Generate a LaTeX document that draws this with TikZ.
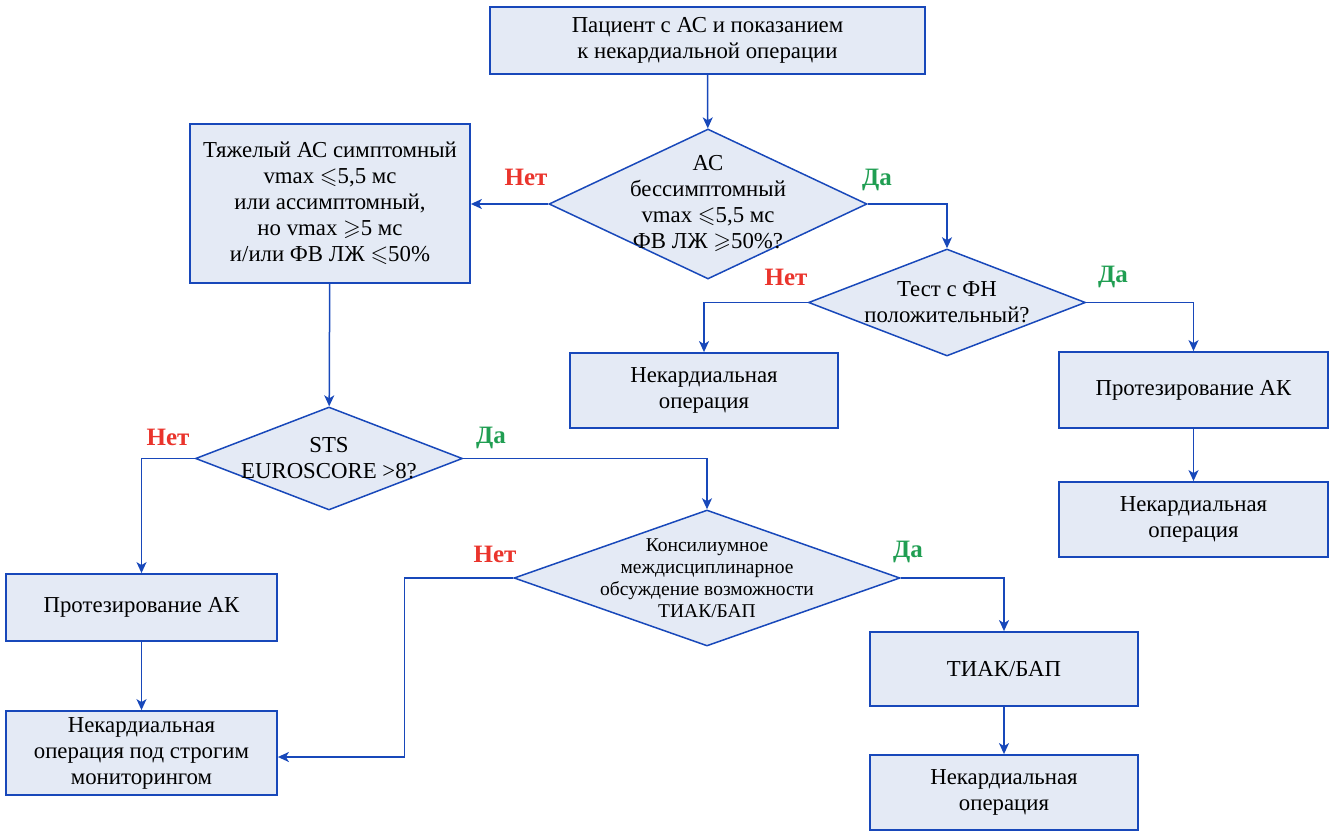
\documentclass[tikz,border=0pt]{standalone}
\usepackage{amssymb}
\usepackage{fontspec}
\setmainfont{Liberation Serif}
\usetikzlibrary{shapes.geometric,arrows.meta}
\definecolor{boxblue}{RGB}{24,72,186}
\definecolor{boxfill}{RGB}{228,234,245}
\definecolor{nored}{RGB}{234,52,44}
\definecolor{yesgreen}{RGB}{32,158,82}
\tikzset{every picture/.style={line width=1.5pt}}
\tikzset{
  stepbox/.style={draw=boxblue,fill=boxfill,line width=1.8pt,align=center,inner sep=0pt,
    font=\fontsize{22.8}{26}\selectfont},
  choice/.style={diamond,draw=boxblue,fill=boxfill,line width=1.5pt,align=center,inner sep=-14pt,
    font=\fontsize{22.8}{26}\selectfont},
  arr/.style={draw=boxblue,line width=1.5pt,-{Stealth[length=11pt,width=10pt,inset=3pt]}},
  nolbl/.style={text=nored,font=\bfseries\fontsize{25}{28}\selectfont},
  yeslbl/.style={text=yesgreen,font=\bfseries\fontsize{25}{28}\selectfont}
}
\begin{document}
\begin{tikzpicture}[x=1pt,y=-1pt]
\useasboundingbox (0,0) rectangle (1333,832);
% boxes
\node[stepbox,minimum width=435,minimum height=67] (start) at (707.5,40.5)
  {Пациент с АС и показанием\\к некардиальной операции};
\node[choice,aspect=2.12,minimum width=318,minimum height=150] (d1) at (708,204)
  {АС\\бессимптомный\\vmax $\leqslant$5,5 мс\\ФВ ЛЖ $\geqslant$50\%?};
\node[stepbox,minimum width=280,minimum height=159] (severe) at (330,203.5)
  {Тяжелый АС симптомный\\vmax $\leqslant$5,5 мс\\или ассимптомный,\\но vmax $\geqslant$5 мс\\и/или ФВ ЛЖ $\leqslant$50\%};
\node[choice,aspect=2.59,minimum width=277,minimum height=107] (d2) at (947,302.5)
  {Тест с ФН\\положительный?};
\node[stepbox,minimum width=268,minimum height=75] (op1) at (704,390.5)
  {Некардиальная\\операция};
\node[stepbox,minimum width=269,minimum height=76] (pak1) at (1193.5,390)
  {Протезирование АК};
\node[stepbox,minimum width=269,minimum height=75] (op2) at (1193.5,519.5)
  {Некардиальная\\операция};
\node[choice,aspect=2.59,minimum width=267,minimum height=103] (d3) at (329,458.5)
  {STS\\EUROSCORE >8?};
\node[stepbox,minimum width=271,minimum height=67] (pak2) at (141.5,607.5)
  {Протезирование АК};
\node[stepbox,minimum width=271,minimum height=84] (op3) at (141.5,753)
  {Некардиальная\\операция под строгим\\мониторингом};
\node[choice,aspect=2.84,minimum width=386,minimum height=136,font=\fontsize{19.5}{22}\selectfont] (d4) at (707,578)
  {Консилиумное\\междисциплинарное\\обсуждение возможности\\ТИАК/БАП};
\node[stepbox,minimum width=268,minimum height=74] (tavi) at (1004,669)
  {ТИАК/БАП};
\node[stepbox,minimum width=268,minimum height=75] (op4) at (1004,792.5)
  {Некардиальная\\операция};
% answers
\node[nolbl] (n1) at (526,177) {Нет};
\node[yeslbl] (y1) at (877,180) {Да};
\node[nolbl] (n2) at (786,277) {Нет};
\node[yeslbl] (y2) at (1113,277) {Да};
\node[nolbl] (n3) at (168,437) {Нет};
\node[yeslbl] (y3) at (491,438) {Да};
\node[nolbl] (n4) at (495,554) {Нет};
\node[yeslbl] (y4) at (908,552) {Да};
% arrows
\draw[arr] (start) -- (d1);
\draw[arr] (d1.west) -- (severe.east |- d1.west);
\draw[arr] (d1.east) -| (d2.north);
\draw[arr] (severe) -- (d3);
\draw[arr] (d2.west) -| (op1.north);
\draw[arr] (d2.east) -| (pak1.north);
\draw[arr] (pak1) -- (op2);
\draw[arr] (d3.west) -| (pak2.north);
\draw[arr] (d3.east) -| (d4.north);
\draw[arr] (pak2) -- (op3);
\draw[arr] (d4.west) -- ++(-109,0) |- ([yshift=-4pt]op3.east);
\draw[arr] (d4.east) -| (tavi.north);
\draw[arr] (tavi) -- (op4);
\end{tikzpicture}
\end{document}
